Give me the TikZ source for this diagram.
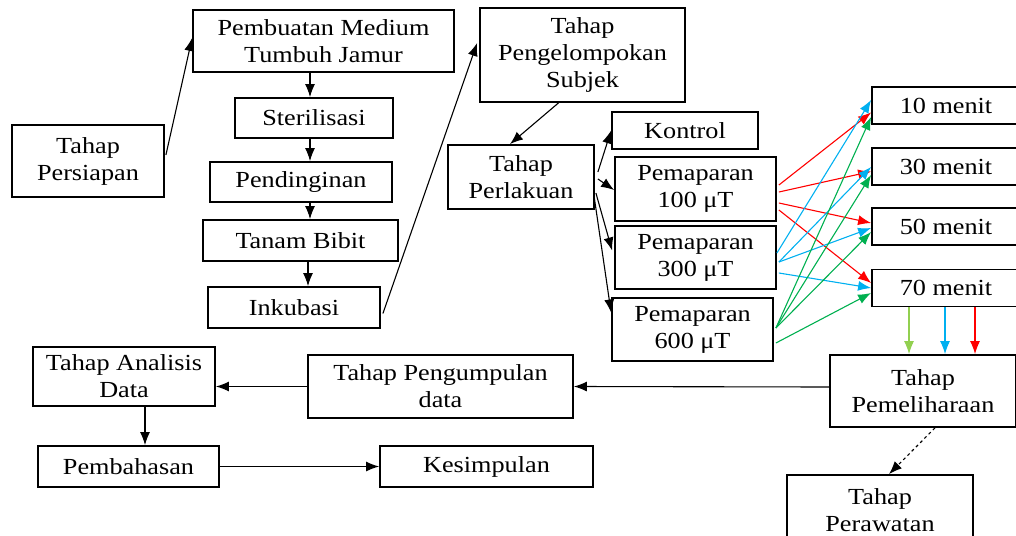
\documentclass[tikz,border=0pt]{standalone}
\usepackage{fontspec}
\setmainfont{Liberation Serif}[FakeStretch=1.14]
\usetikzlibrary{arrows.meta,calc}
\definecolor{lineblue}{RGB}{0,176,240}
\definecolor{linegreen}{RGB}{0,176,80}
\definecolor{lightgreen}{RGB}{146,208,80}
\definecolor{linered}{RGB}{255,0,0}

\begin{document}
\begin{tikzpicture}[x=1pt,y=-1pt,
  box/.style={draw,line width=1.8pt,rectangle,inner sep=0pt,align=center,
    font=\fontsize{23}{27}\selectfont},
  arr/.style={-{Latex[length=13pt,width=10pt]},line width=1.1pt}]

\useasboundingbox (0,0) rectangle (1016,535);

% preparation
\node [box,minimum width=152,minimum height=72] (persiapan) at (88,161) {Tahap\\Persiapan};
\node [box,minimum width=261,minimum height=62] (medium) at (323.5,41) {Pembuatan Medium\\Tumbuh Jamur};
\node [box,minimum width=158,minimum height=40] (steril) at (314,118) {Sterilisasi};
\node [box,minimum width=182,minimum height=40] (dingin) at (301,182) {Pendinginan};
\node [box,minimum width=195,minimum height=41] (tanam) at (300.5,240.5) {Tanam Bibit};
\node [box,minimum width=172,minimum height=41] (inkubasi) at (294,307.5) {Inkubasi};

% treatment
\node [box,minimum width=205,minimum height=94] (subjek) at (582.5,55) {Tahap\\Pengelompokan\\Subjek};
\node [box,minimum width=146,minimum height=64] (perlakuan) at (521,177) {Tahap\\Perlakuan};
\node [box,minimum width=146,minimum height=37] (kontrol) at (685,130.5) {Kontrol};
\node [box,minimum width=161,minimum height=64] (pa) at (695.5,189) {Pemaparan\\100 μT};
\node [box,minimum width=161,minimum height=63] (pb) at (695.5,257.5) {Pemaparan\\300 μT};
\node [box,minimum width=161,minimum height=63] (pc) at (692.5,329.5) {Pemaparan\\600 μT};

\node [box,minimum width=148,minimum height=37] (m10) at (946,105.5) {10 menit};
\node [box,minimum width=148,minimum height=37] (m30) at (946,166.5) {30 menit};
\node [box,minimum width=148,minimum height=37] (m50) at (946,226.5) {50 menit};
\node [box,minimum width=148,minimum height=37] (m70) at (946,288) {70 menit};

% after treatment
\node [box,minimum width=186,minimum height=72] (pelihara) at (923,391) {Tahap\\Pemeliharaan};
\node [box,minimum width=186,minimum height=70] (rawat) at (880,510) {Tahap\\Perawatan};
\node [box,minimum width=265,minimum height=63] (kumpul) at (440.5,386.5) {Tahap Pengumpulan\\data};
\node [box,minimum width=182,minimum height=59] (analisis) at (124,376.5) {Tahap Analisis\\Data};
\node [box,minimum width=181,minimum height=41] (bahas) at (128.5,466.5) {Pembahasan};
\node [box,minimum width=213,minimum height=41] (simpul) at (486.5,466.5) {Kesimpulan};

\draw [arr] ($(persiapan.east)+(1,-6)$) -- ($(medium.west)+(0,-3)$);
\draw [arr] ($(medium.south)+(-13.5,0)$) -- ($(steril.north)+(-4,0)$);
\draw [arr] ($(steril.south)+(-4,0)$) -- ($(dingin.north)+(9,0)$);
\draw [arr] ($(dingin.south)+(9,0)$) -- ($(tanam.north)+(9.5,0)$);
\draw [arr] ($(tanam.south)+(7.5,0)$) -- ($(inkubasi.north)+(14,0)$);
\draw [arr] ($(inkubasi.east)+(2,6)$) -- ($(subjek.west)+(-2,-12)$);

\draw [arr] ($(subjek.south)+(-24,0)$) -- ($(perlakuan.north)+(-11,0)$);
\draw [arr] ($(perlakuan.east)+(3,-5)$) -- (kontrol.west);
\draw [arr] ($(perlakuan.east)+(3,2)$) -- ($(pa.west)+(0,1)$);
\draw [arr] ($(perlakuan.east)+(1,16)$) -- ($(pb.west)+(-2,-7)$);
\draw [arr] ($(perlakuan.east)+(-1,18)$) -- ($(pc.west)+(0,-17)$);

% durations
\draw [arr,linered] ($(pa.east)+(2,-4)$) -- ($(m10.west)+(0,7)$);
\draw [arr,linered] ($(pa.east)+(2,3)$) -- ($(m30.west)+(0,5)$);
\draw [arr,linered] ($(pa.east)+(2,14)$) -- ($(m50.west)+(0,-3.5)$);
\draw [arr,linered] ($(pa.east)+(2,21)$) -- ($(m70.west)+(0,-5)$);

\draw [arr,lineblue] ($(pb.east)+(0,-4.5)$) -- ($(m10.west)+(0,-5.5)$);
\draw [arr,lineblue] ($(pb.east)+(2,4.5)$) -- ($(m30.west)+(0,0.5)$);
\draw [arr,lineblue] ($(pb.east)+(2,4.5)$) -- ($(m50.west)+(0,1.5)$);
\draw [arr,lineblue] ($(pb.east)+(2,15.5)$) -- ($(m70.west)+(0,0)$);

\draw [arr,linegreen] ($(pc.east)+(2,-1.5)$) -- ($(m10.west)+(0,11.5)$);
\draw [arr,linegreen] ($(pc.east)+(2,-1.5)$) -- ($(m30.west)+(0,8.5)$);
\draw [arr,linegreen] ($(pc.east)+(2,-1.5)$) -- ($(m50.west)+(0,5.5)$);
\draw [arr,linegreen] ($(pc.east)+(2,13.5)$) -- ($(m70.west)+(0,5)$);

\draw [arr,lightgreen] ($(m70.south)+(-37,0)$) -- ($(pelihara.north)+(-14,0)$);
\draw [arr,lineblue] ($(m70.south)+(-1,0)$) -- ($(pelihara.north)+(22,0)$);
\draw [arr,linered] ($(m70.south)+(29,0)$) -- ($(pelihara.north)+(52,0)$);

\draw [arr] ($(pelihara.west)+(0,-4)$) -- (kumpul.east);
\draw [arr] (kumpul.west) -- (kumpul.west -| analisis.east);
\draw [arr] ($(analisis.south)+(21,0)$) -- ($(bahas.north)+(16.5,0)$);
\draw [arr] (bahas.east) -- (simpul.west);
\draw [arr,dashed] ($(pelihara.south)+(12,0)$) -- ($(rawat.north)+(9,0)$);

\end{tikzpicture}
\end{document}
